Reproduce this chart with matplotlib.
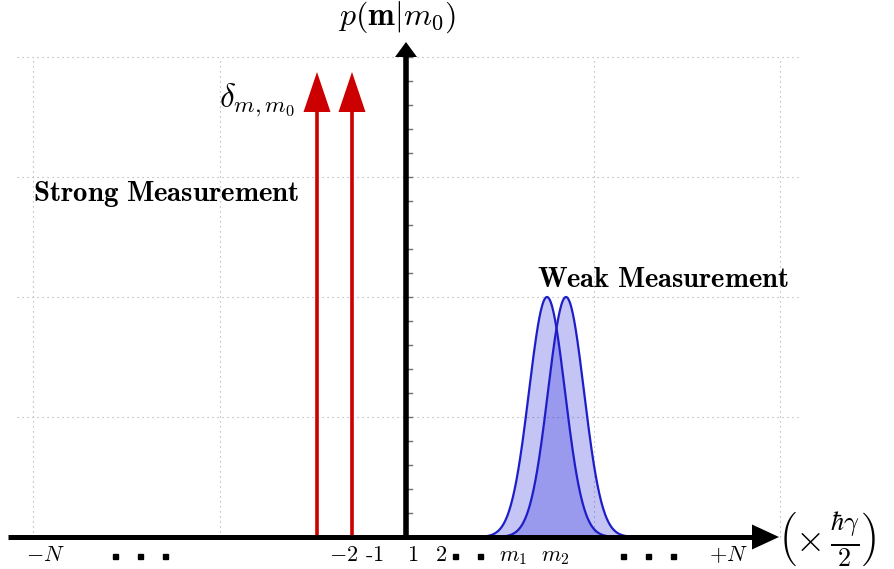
import numpy as np
import matplotlib.pyplot as plt

plt.rcParams['mathtext.fontset'] = 'cm'
plt.rcParams['font.family'] = 'serif'

# x: pixel-like units, origin on the p axis; y: one unit per grid step
grid_x = [-373, -186, 188, 374]
grid_y = [1, 2, 3, 4]
minor_y = [0.2, 0.4, 0.6, 0.8, 1.2, 1.4, 1.6, 1.8, 2.2, 2.4, 2.6, 2.8,
           3.2, 3.4, 3.6, 3.8]

# strong measurement: two delta spikes
strong_x = [-89, -54]
strong_top = 3.875

# weak measurement: two broad overlapping peaks
weak_centers = [141, 160]
weak_sigma = 18
weak_peak = 2.0

tick_pos = [-361, -62, -32, 7, 35, 107, 149, 322]
tick_txt = [r'$-N$', r'$-2$', r'$\text{-}1$', r'$1$', r'$2$', r'$m_1$',
            r'$m_2$', r'$+N$']
dot_pos = [-291, -266, -241, 49, 74, 217, 242, 267]

RED = '#cc0000'
BLUE = '#1e1ec8'

fig = plt.figure(figsize=(8.95, 5.69), dpi=100)
ax = fig.add_axes([0, 0, 1, 1])
ax.set_xlim(-406, 489)
ax.set_ylim(-32 / 120, 537 / 120)
ax.axis('off')

# dotted grid
for gy in grid_y:
    ax.plot([-389, 392], [gy, gy], color='#a8a8a8', lw=0.8,
            dashes=(1, 3.5), zorder=0)
for gx in grid_x:
    ax.plot([gx, gx], [0, 4], color='#a8a8a8', lw=0.8,
            dashes=(1, 3.5), zorder=0)

# small ticks on the p axis
for ty in minor_y + grid_y:
    ax.plot([0, 6], [ty, ty], color='#707070', lw=1.0, zorder=3)

# weak measurement peaks
for c in weak_centers:
    xs = np.linspace(c - 70, c + 70, 300)
    ys = weak_peak * np.exp(-0.5 * ((xs - c) / weak_sigma) ** 2)
    ax.fill_between(xs, 0, ys, color='#1010d8', alpha=0.24, lw=0, zorder=1)
    ax.plot(xs, ys, color=BLUE, lw=1.6, zorder=2)

# strong measurement arrows
head_len = 40 / 120
for sx in strong_x:
    ax.plot([sx, sx], [0, strong_top - head_len], color=RED, lw=2.6,
            solid_capstyle='butt', zorder=4)
    ax.fill([sx - 13.5, sx + 13.5, sx],
            [strong_top - head_len, strong_top - head_len, strong_top],
            color=RED, lw=0, zorder=4)

# p axis
ax.plot([0, 0], [0, 4.0], color='k', lw=4.0, solid_capstyle='butt', zorder=5)
ax.fill([-11, 11, 0], [4.0, 4.0, 4.0 + 15 / 120], color='k', lw=0, zorder=5)

# m axis
ax.plot([-398, 347], [0, 0], color='k', lw=3.6, solid_capstyle='butt', zorder=5)
ax.fill([346, 346, 373], [-12.5 / 120, 12.5 / 120, 0], color='k', lw=0, zorder=5)

# tick labels
for p, t in zip(tick_pos, tick_txt):
    ax.text(p, -0.2, t, ha='center', va='baseline', fontsize=16)
ax.plot(dot_pos, [-0.158] * len(dot_pos), ls='none', marker='s',
        ms=3.6, color='k')

ax.text(372, -0.02, r'$\left(\times\,\frac{\hbar\gamma}{2}\right)$',
        ha='left', va='center', fontsize=27)
ax.text(-9, 4.267, r'$p(\mathbf{m}|m_0)$', ha='center', va='baseline',
        fontsize=23)
ax.text(-187, 3.586, r'$\delta_{m,m_0}$', ha='left', va='baseline',
        fontsize=24)
ax.text(-373, 2.80, r'$\mathbf{Strong\ Measurement}$', ha='left',
        va='baseline', fontsize=20.8)
ax.text(131, 2.086, r'$\mathbf{Weak\ Measurement}$', ha='left',
        va='baseline', fontsize=20.6)

fig.savefig('out.png', dpi=100)
